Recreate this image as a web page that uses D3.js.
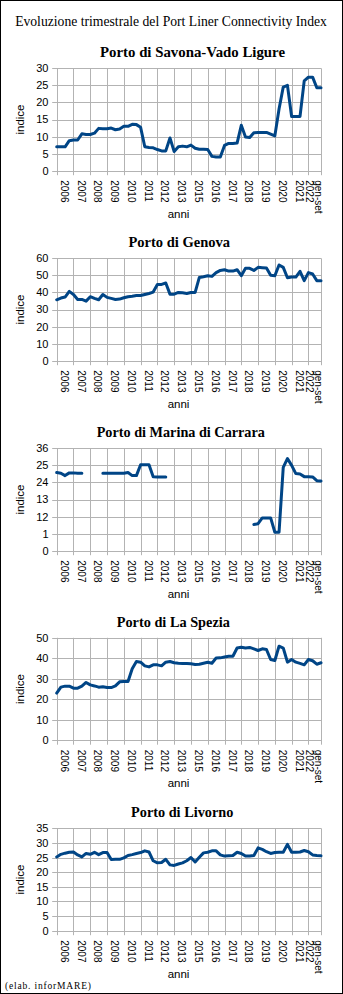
<!DOCTYPE html>
<html><head><meta charset="utf-8">
<script src="https://cdn.jsdelivr.net/npm/d3@7"></script>
<style>body{margin:0;background:#fff}svg{display:block}</style>
</head><body>
<script>
// ---------- DATA ----------
const categories = ["2006","2007","2008","2009","2010","2011","2012","2013","2015","2016","2017","2018","2019","2020","2021","gen-set 2022"];
// category start index (quarter index) for each label; last point index = 63
const categoryStart = [0,4,8,12,16,20,24,28,32,36,40,44,48,52,56,60];
const lastIndex = 63;

const savona = [7,7,7,8.8,9,9,10.8,10.6,10.6,11,12.4,12.3,12.3,12.5,12,12.2,13,13,13.6,13.5,12.7,7,6.8,6.7,6.2,5.8,5.8,9.6,5.6,7,7.2,7,7.5,6.6,6.3,6.3,6.2,4.2,4,4,7.4,8,8,8.1,13.3,9.9,9.7,11.1,11.2,11.2,11.2,10.7,10.2,18.1,24.5,25,15.9,15.9,15.9,26.3,27.4,27.4,24.3,24.3];
const genova = [35.7,36.7,37.3,40.6,38.8,35.9,35.9,34.9,37.5,36.5,35.7,38.8,37.1,36.5,35.9,36.1,36.9,37.5,37.8,38.2,38.2,38.8,39.4,40.2,44.7,44.7,45.5,39,39,40,39.8,39.4,40,40,48.8,49.2,49.8,49.4,51.6,52.9,53.3,52.5,52.5,53.3,49.8,54.1,54.1,52.9,54.7,54.5,54.3,50,49.8,56.1,54.7,48.6,49,49,52.4,46.9,51.6,50.8,46.9,46.9];
const carrara = [22.9,22.7,22,22.8,22.8,22.7,22.7,null,null,null,null,22.7,22.7,22.7,22.7,22.7,22.7,22.9,22,22,25.2,25.2,25.2,21.7,21.6,21.6,21.6,null,null,null,null,null,null,null,null,null,null,null,null,null,null,null,null,null,null,null,null,7.7,7.9,9.6,9.6,9.6,5.4,5.4,24.4,27,25,22.6,22.5,21.7,21.7,21.6,20.5,20.4];
const laSpezia = [23,25.9,26.4,26.4,25.4,25.4,26.4,28.2,27,26.5,25.9,26.1,25.7,25.7,26.5,28.5,28.7,28.7,34.9,38.4,38.1,36.3,35.8,36.8,36.8,36.3,38.1,38.4,37.8,37.6,37.5,37.5,37.3,37,37.1,37.6,38.1,37.6,40.1,40.2,40.6,41,41,45,45.4,45,45.3,44.6,43.8,44.6,44.3,39.4,38.9,45.9,45,38.1,39.4,38.1,37.5,36.8,39.4,38.8,37.1,37.8];
const livorno = [25.2,26.1,26.5,26.8,26.9,25.9,25.2,26.4,26.1,26.8,26,26.7,26.7,24.3,24.4,24.4,24.9,25.7,26,26.4,26.7,27.3,26.9,23.9,23.2,23.3,24.4,22.5,22.3,22.8,23.2,23.9,25,23.5,25.1,26.6,26.8,27.3,27.3,25.9,25.5,25.6,25.7,26.8,26.4,25.5,25.5,25.7,28.3,27.8,27,26.4,26.7,26.8,26.8,29.5,26.8,26.8,26.9,27.4,27,25.9,25.7,25.6];

const ticksSavona = [0,5,10,15,20,25,30];
const ticksGenova = [0,10,20,30,40,50,60];
const ticksCarrara = [0,5,10,15,20,25,30];
const tickLabelsCarrara = ["0","1","12","13","24","25","36"];
const ticksLaSpezia = [0,10,20,30,40,50];
const ticksLivorno = [0,5,10,15,20,25,30,35];

const mainTitle = "Evoluzione trimestrale del Port Liner Connectivity Index";
const footer = "(elab. inforMARE)";

// ---------- LAYOUT ----------
const W = 343, H = 994;
const plotL = 56.7, plotR = 321, plotH = 102.4;
const GRID = "#b3b3b3", LINE = "#004586";
const SERIF = "'Liberation Serif','Times New Roman',serif";
const SANS = "'Liberation Sans',Arial,sans-serif";

const panels = [
  {title:"Porto di Savona-Vado Ligure", values:savona, ticks:ticksSavona, labels:null, top:68.3, tx:192.5, tw:185},
  {title:"Porto di Genova", values:genova, ticks:ticksGenova, labels:null, top:258.3, tx:179.2, tw:101.7},
  {title:"Porto di Marina di Carrara", values:carrara, ticks:ticksCarrara, labels:tickLabelsCarrara, top:448.3, tx:180.8, tw:168.3},
  {title:"Porto di La Spezia", values:laSpezia, ticks:ticksLaSpezia, labels:null, top:637.8, tx:173.3, tw:113.3},
  {title:"Porto di Livorno", values:livorno, ticks:ticksLivorno, labels:null, top:828.3, tx:182.2, tw:102.3}
];

const svg = d3.select("body").append("svg").attr("width", W).attr("height", H);
svg.append("rect").attr("width", W).attr("height", H).attr("fill", "#fff");
svg.append("rect").attr("x",0.5).attr("y",0.5).attr("width",W-1).attr("height",H-1)
  .attr("fill","none").attr("stroke","#000").attr("stroke-width",1);

function fitText(sel, targetW) {
  const fs = parseFloat(sel.attr("font-size"));
  const w = sel.node().getComputedTextLength();
  if (w > 0) sel.attr("font-size", (fs * targetW / w).toFixed(2));
}

const t = svg.append("text").attr("x", 171).attr("y", 26).attr("text-anchor","middle")
  .attr("font-family", SERIF).attr("font-size", 14).attr("fill","#000").text(mainTitle);
fitText(t, 312);

const x = d3.scaleLinear().domain([0, lastIndex]).range([plotL, plotR]);
const boundaries = categoryStart.concat([lastIndex]);

panels.forEach(p => {
  const bottom = p.top + plotH;
  const y = d3.scaleLinear().domain([0, d3.max(p.ticks)]).range([bottom, p.top]);
  const g = svg.append("g");

  // title
  const tt = g.append("text").attr("x", p.tx).attr("y", p.top - 11).attr("text-anchor","middle")
    .attr("font-family", SERIF).attr("font-weight","bold").attr("font-size", 15).attr("fill","#000").text(p.title);
  fitText(tt, p.tw);

  // horizontal gridlines
  g.selectAll(".hg").data(p.ticks).enter().append("line")
    .attr("x1", plotL - 4.5).attr("x2", plotR)
    .attr("y1", d => Math.round(y(d)) + 0.5).attr("y2", d => Math.round(y(d)) + 0.5)
    .attr("stroke", GRID).attr("stroke-width", 1);
  // vertical gridlines
  g.selectAll(".vg").data(boundaries).enter().append("line")
    .attr("x1", d => Math.round(x(d)) + 0.5).attr("x2", d => Math.round(x(d)) + 0.5)
    .attr("y1", p.top).attr("y2", bottom + 4.5)
    .attr("stroke", GRID).attr("stroke-width", 1);

  // y tick labels
  g.selectAll(".yl").data(p.ticks).enter().append("text")
    .attr("x", 48.5).attr("y", d => y(d)).attr("dy","0.36em").attr("text-anchor","end")
    .attr("font-family", SANS).attr("font-size", 11).attr("fill","#000")
    .text((d,i) => p.labels ? p.labels[i] : d);

  // y axis title
  g.append("text").attr("transform", `translate(20,${(p.top+bottom)/2}) rotate(-90)`)
    .attr("text-anchor","middle").attr("dy","0.36em")
    .attr("font-family", SANS).attr("font-size", 11.5).attr("fill","#000").text("indice");

  // x labels
  categories.forEach((c, i) => {
    const cx = (x(boundaries[i]) + x(boundaries[i+1])) / 2 - 0.8;
    const lines = c.split(" ");
    const tx = g.append("text").attr("transform", `translate(${cx},${bottom + 9.5}) rotate(90)`)
      .attr("text-anchor","start").attr("font-family", SANS).attr("font-size", 10).attr("fill","#000");
    const n = lines.length;
    lines.forEach((ln, k) => {
      tx.append("tspan").attr("x", 0).attr("y", (k - (n-1)/2) * 9.2).attr("dominant-baseline","central").text(ln);
    });
  });

  // x axis title
  g.append("text").attr("x", 178.5).attr("y", bottom + 47).attr("text-anchor","middle")
    .attr("font-family", SANS).attr("font-size", 11.5).attr("fill","#000").text("anni");

  // line
  const line = d3.line().defined(d => d != null).x((d,i) => x(i)).y(d => y(d));
  g.append("path").datum(p.values).attr("d", line).attr("fill","none")
    .attr("stroke", LINE).attr("stroke-width", 3).attr("stroke-linejoin","round").attr("stroke-linecap","round");
});

svg.append("text").attr("x", 5).attr("y", 989).attr("font-family", SERIF)
  .attr("font-size", 9.5).attr("textLength", 86).attr("lengthAdjust", "spacing")
  .attr("fill","#000").text(footer);
</script>
</body></html>
